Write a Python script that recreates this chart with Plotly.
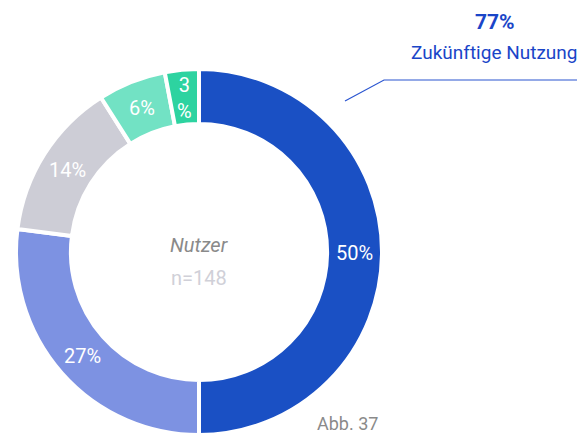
import math
import plotly.graph_objects as go

categories = ["A", "B", "C", "D", "E"]
values = [50, 27, 14, 6, 3]
labels_text = ["50%", "27%", "14%", "6%", "3<br>%"]
colors = ["#1a50c4", "#7d92e2", "#cdcdd6", "#72e2c4", "#2dd3a0"]

# page body has an 8px margin; figure sized to fit the remaining window
OFF = 8
W, H = 585 - OFF, 436 - OFF


def px(x):
    return (x - OFF) / W


def py(y):
    return 1 - (y - OFF) / H


cx, cy, R = 199, 252, 183
HOLE = 0.7
FONT = "Roboto"

# slice labels are placed at the middle of each ring segment
total = sum(values)

fig = go.Figure(go.Pie(
    labels=categories, values=values,
    textinfo="none",
    marker=dict(colors=colors, line=dict(color="white", width=4)),
    hole=HOLE, sort=False, direction="clockwise", rotation=0,
    showlegend=False, hoverinfo="skip",
    domain=dict(x=[px(cx - R), px(cx + R)], y=[py(cy + R), py(cy - R)]),
))


def ann(x, y, text, size, color, yanchor="middle"):
    fig.add_annotation(x=px(x), y=py(y), xref="paper", yref="paper", text=text,
                       xanchor="center", yanchor=yanchor, showarrow=False,
                       font=dict(size=size, color=color, family=FONT))


cum = 0
for t, v in zip(labels_text, values):
    ang = 2 * math.pi * (cum + v / 2) / total
    r = R * (1 + HOLE) / 2
    ann(cx + r * math.sin(ang), cy - r * math.cos(ang) + 1, t, 20, "white")
    cum += v

ann(cx, 245, "<i>Nutzer</i>", 20, "#8a8a8a")
ann(cx, 278, "n=148", 20, "#d0d0d8")
ann(495, 22, "<b>77%</b>", 21, "#1a45c8")
ann(494, 52, "Zukünftige Nutzung", 19, "#1a45c8")
ann(347, 436, "Abb. 37", 18, "#8a8a8a", yanchor="bottom")

fig.add_shape(type="path", xref="paper", yref="paper",
              path=f"M {px(345)} {py(101)} L {px(384)} {py(80)} L {px(585)} {py(80)}",
              line=dict(color="#2a55d0", width=1.2))

fig.update_layout(width=W, height=H, margin=dict(l=0, r=0, t=0, b=0),
                  paper_bgcolor="white", plot_bgcolor="white")
fig.write_html("out.html")
